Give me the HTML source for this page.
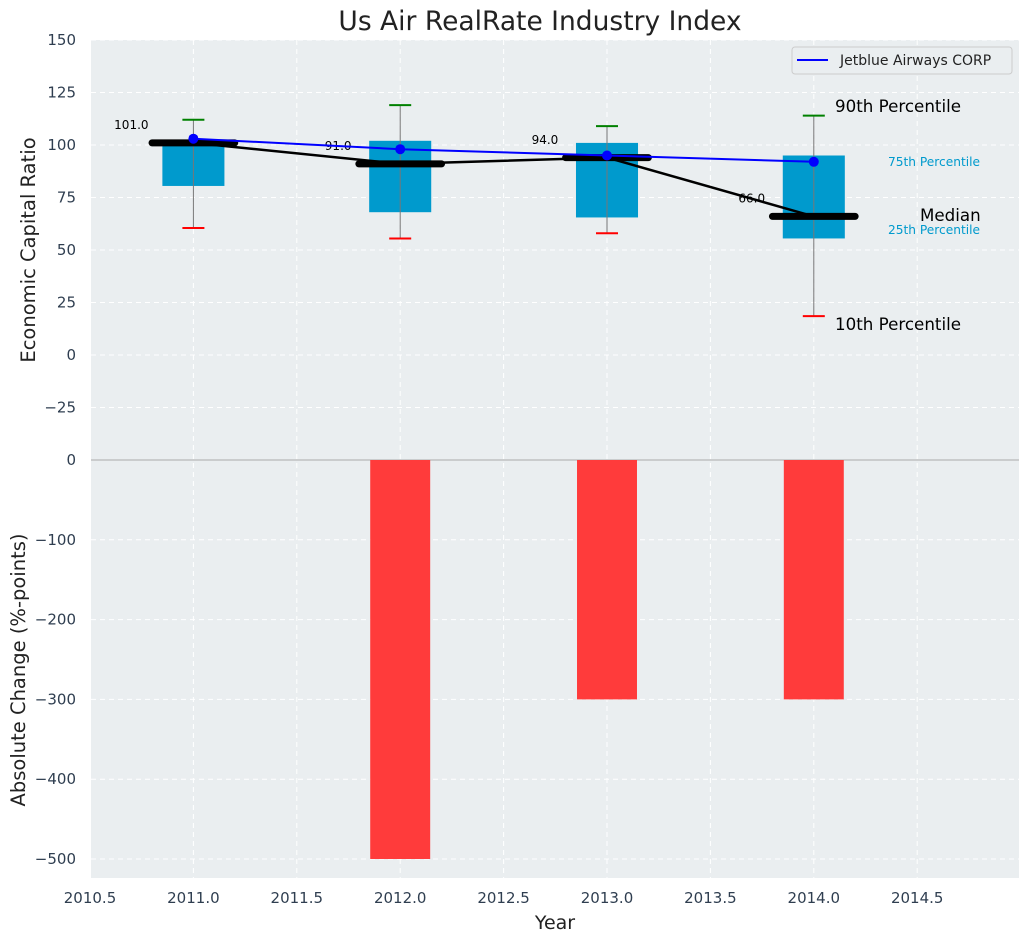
<!DOCTYPE html>
<html><head><meta charset="utf-8"><style>
body{margin:0;background:#fff;font-family:"Liberation Sans","DejaVu Sans",sans-serif}
svg text{font-family:"DejaVu Sans","Liberation Sans",sans-serif}
</style></head><body>
<svg id="c" width="1029" height="942" xmlns="http://www.w3.org/2000/svg"></svg>
<script>
const years=[2011,2012,2013,2014];
const p10=[60.5,55.5,58,18.5];
const p25=[80.5,68,65.5,55.5];
const med=[101,91,94,66];
const p75=[101.5,102,101,95];
const p90=[112,119,109,114];
const jet=[103,98,95,92];
const change=[0,-500,-300,-300];
const topTicks=[150,125,100,75,50,25,0,-25];
const botTicks=[0,-100,-200,-300,-400,-500];
const xTicks=[2010.5,2011,2011.5,2012,2012.5,2013,2013.5,2014,2014.5];

const svg=document.getElementById('c');const NS='http://www.w3.org/2000/svg';
function el(t,a,txt){const e=document.createElementNS(NS,t);for(const k in a)e.setAttribute(k,a[k]);if(txt!==undefined)e.textContent=txt;svg.appendChild(e);return e;}
const L=91,R=1019,T1=40,B1=460,T2=460,B2=878;
const X=v=>90+(v-2010.5)*206.8;
const Y1=v=>355-v*2.1;
const YB=v=>460+(-v)*0.798;

let e;
e=el('rect',{x:L,y:T1,width:R-L,height:B1-T1,fill:'#eaeef0'});

e=el('rect',{x:L,y:T2,width:R-L,height:B2-T2,fill:'#eaeef0'});

xTicks.forEach(t=>{el('line',{x1:X(t),x2:X(t),y1:T1,y2:B2,stroke:'#fff','stroke-dasharray':'5,4','stroke-width':1});});
topTicks.forEach(t=>{el('line',{x1:L,x2:R,y1:Y1(t),y2:Y1(t),stroke:'#fff','stroke-dasharray':'5,4'});
 e=el('text',{x:76,y:Y1(t)+5,'text-anchor':'end','font-size':15,fill:'#2f3e50'},t<0?'\u2212'+(-t):t);
 });
botTicks.forEach(t=>{el('line',{x1:L,x2:R,y1:YB(t),y2:YB(t),stroke:'#fff','stroke-dasharray':'5,4'});
 e=el('text',{x:76,y:YB(t)+5,'text-anchor':'end','font-size':15,fill:'#2f3e50'},t<0?'\u2212'+(-t):t);
 });
xTicks.forEach(t=>{e=el('text',{x:X(t),y:903,'text-anchor':'middle','font-size':15,fill:'#2f3e50'},t.toFixed(1));
 });
el('line',{x1:L,x2:R,y1:460,y2:460,stroke:'#aaa','stroke-width':1});

years.forEach((y,i)=>{
 const x=X(y),w=0.3*206.8;
 e=el('rect',{x:x-w/2,y:Y1(p75[i]),width:w,height:Y1(p25[i])-Y1(p75[i]),fill:'#009acd'});
 
 el('line',{x1:x,x2:x,y1:Y1(p90[i]),y2:Y1(p10[i]),stroke:'#777','stroke-width':1});
 el('line',{x1:x-11,x2:x+11,y1:Y1(p90[i]),y2:Y1(p90[i]),stroke:'green','stroke-width':2});
 el('line',{x1:x-11,x2:x+11,y1:Y1(p10[i]),y2:Y1(p10[i]),stroke:'red','stroke-width':2});
});
e=el('polyline',{points:years.map((y,i)=>X(y)+','+Y1(med[i])).join(' '),fill:'none',stroke:'#000','stroke-width':2.5});

years.forEach((y,i)=>{
 e=el('line',{x1:X(y-0.2),x2:X(y+0.2),y1:Y1(med[i]),y2:Y1(med[i]),stroke:'#000','stroke-width':7,'stroke-linecap':'round'});
 
 e=el('text',{x:X(y-0.3),y:Y1(med[i]+8.5)+4,'text-anchor':'middle','font-size':12,fill:'#000'},med[i].toFixed(1));
 
});
e=el('polyline',{points:years.map((y,i)=>X(y)+','+Y1(jet[i])).join(' '),fill:'none',stroke:'blue','stroke-width':2});

years.forEach((y,i)=>{e=el('circle',{cx:X(y),cy:Y1(jet[i]),r:5,fill:'blue'});
 });
years.forEach((y,i)=>{ if(change[i]===0)return;
 const w=0.29*206.8;
 e=el('rect',{x:X(y)-w/2,y:460,width:w,height:YB(change[i])-460,fill:'#ff3b3b'});
 });
[['90th Percentile',835,112,16.7,'#000'],['75th Percentile',888,166,12.2,'#009acd'],['Median',920,221,16.7,'#000'],['25th Percentile',888,234,12.2,'#009acd'],['10th Percentile',835,330,16.7,'#000']].forEach(a=>{
 e=el('text',{x:a[1],y:a[2],'font-size':a[3],fill:a[4]},a[0]);
 });
e=el('rect',{x:792,y:47,width:220,height:27,rx:3,fill:'#eaeef0',stroke:'#ccc'});

el('line',{x1:797,x2:828,y1:60,y2:60,stroke:'blue','stroke-width':2});
e=el('text',{x:840,y:65,'font-size':14,fill:'#222'},'Jetblue Airways CORP');

e=el('text',{x:540,y:30,'text-anchor':'middle','font-size':26.5,fill:'#222'},'Us Air RealRate Industry Index');

e=el('text',{x:555,y:929,'text-anchor':'middle','font-size':19,fill:'#222'},'Year');

e=el('text',{x:0,y:0,transform:'translate(35,250) rotate(-90)','text-anchor':'middle','font-size':19.5,fill:'#222'},'Economic Capital Ratio');

e=el('text',{x:0,y:0,transform:'translate(25,670) rotate(-90)','text-anchor':'middle','font-size':19.5,fill:'#222'},'Absolute Change (%-points)');

</script>
</body></html>
